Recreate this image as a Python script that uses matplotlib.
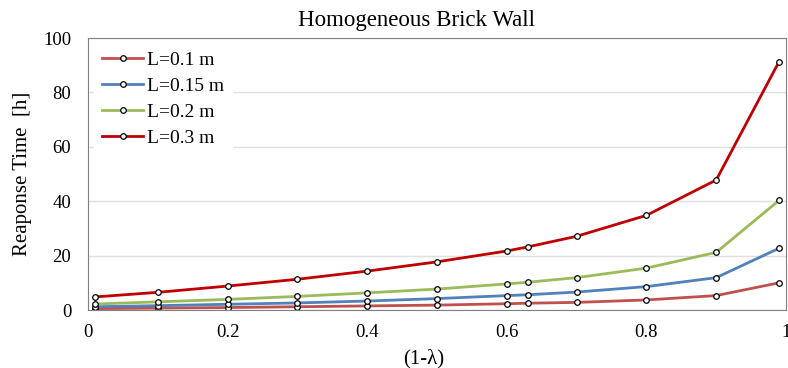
import matplotlib.pyplot as plt

# (1-lambda) values on the x axis
x_vals = [0.01, 0.1, 0.2, 0.3, 0.4, 0.5, 0.6, 0.63, 0.7, 0.8, 0.9, 0.99]

# response time [h] per wall thickness
l010 = [0.5, 0.7, 0.9, 1.2, 1.5, 1.8, 2.3, 2.5, 2.8, 3.7, 5.3, 10.0]
l015 = [1.2, 1.6, 2.1, 2.6, 3.3, 4.2, 5.3, 5.6, 6.6, 8.6, 11.9, 22.7]
l020 = [2.2, 3.0, 3.9, 5.0, 6.3, 7.7, 9.6, 10.2, 11.9, 15.4, 21.2, 40.3]
l030 = [4.8, 6.5, 8.8, 11.3, 14.3, 17.7, 21.7, 23.2, 27.1, 34.8, 47.8, 91.3]

series_labels = ["L=0.1 m", "L=0.15 m", "L=0.2 m", "L=0.3 m"]
colors = ["#C0504D", "#4F81BD", "#9BBB59", "#C00000"]

x_ticks = [0, 0.2, 0.4, 0.6, 0.8, 1]
x_tick_labels = ["0", "0.2", "0.4", "0.6", "0.8", "1"]
y_ticks = [0, 20, 40, 60, 80, 100]

plt.rcParams["font.family"] = ["Liberation Serif", "DejaVu Serif"]

fig = plt.figure(figsize=(7.88, 3.68), dpi=100)
ax = fig.add_axes([0.1117, 0.1576, 0.8858, 0.7391])

for ys, lab, c in zip([l010, l015, l020, l030], series_labels, colors):
    ax.plot(x_vals, ys, color=c, lw=2, label=lab, marker="o", markersize=4,
            markerfacecolor="white", markeredgecolor="black", markeredgewidth=0.9)

ax.set_xlim(0, 1)
ax.set_ylim(0, 100)
ax.set_xticks(x_ticks)
ax.set_xticklabels(x_tick_labels)
ax.set_yticks(y_ticks)
ax.tick_params(length=0, labelsize=13.5)
ax.tick_params(axis="x", pad=10)
ax.tick_params(axis="y", pad=12)
ax.grid(axis="y", color="#E0E0E0", lw=1)
ax.set_axisbelow(True)
for s in ax.spines.values():
    s.set_color("#808080")

ax.set_title("Homogeneous Brick Wall", fontsize=16.5, x=0.47, pad=9)
ax.set_xlabel("(1-λ)", fontsize=15)
ax.xaxis.set_label_coords(0.481, -0.145)
ax.set_ylabel("Reaponse Time  [h]", fontsize=15, labelpad=8)

leg = ax.legend(loc="upper left", frameon=True, fontsize=14, handlelength=2.15,
                borderaxespad=0.3, labelspacing=0.42, handletextpad=0.2,
                fancybox=False)
leg.get_frame().set_edgecolor("white")
leg.get_frame().set_alpha(1)

fig.savefig("out.png", dpi=100)
